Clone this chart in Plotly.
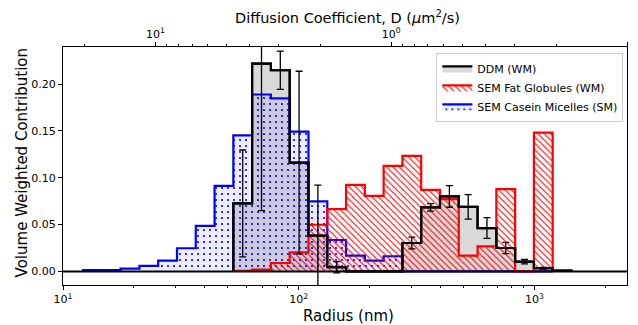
import math
import plotly.graph_objects as go

# ---------------- data ----------------
# shared logarithmic bin edges (radius, nm)
EDGES_NM = [12.16, 14.61, 17.55, 21.09, 25.34, 30.45, 36.58, 43.95, 52.80,
            63.43, 76.21, 91.56, 110.0, 132.2, 158.8, 190.8, 229.2, 275.4,
            330.8, 397.5, 477.5, 573.8, 689.3, 828.2, 995.0, 1195.0, 1436.0]

# SEM Casein Micelles (SM) – bins starting at edge index 0
CASEIN_FIRST_BIN = 0
CASEIN_VALUES = [0.0015, 0.0015, 0.003, 0.006, 0.0115, 0.0247, 0.0487, 0.0913,
                 0.1452, 0.1888, 0.1846, 0.1491, 0.0747, 0.0335, 0.0168, 0.0115,
                 0.0162, 0.0, 0.0, 0.0, 0.0, 0.0, 0.0, 0.0, 0.0]

# SEM Fat Globules (WM) – bins starting at edge index 8
FAT_FIRST_BIN = 8
FAT_VALUES = [0.0005, 0.002, 0.009, 0.0204, 0.0498, 0.0665, 0.0923, 0.0806,
              0.1126, 0.1232, 0.087, 0.0771, 0.0168, 0.0268, 0.0878, 0.0, 0.1481]

# DDM (WM) – bins starting at edge index 8, with error bars
DDM_FIRST_BIN = 8
DDM_VALUES = [0.0726, 0.2218, 0.2147, 0.1162, 0.0381, 0.0045, 0.0, 0.0, 0.0,
              0.0303, 0.0683, 0.080, 0.0689, 0.0463, 0.025, 0.0104, 0.0034, 0.0008]
DDM_ERRORS = [0.057, 0.157, 0.0204, 0.0974, 0.054, 0.006, 0.0, 0.0, 0.0,
              0.0063, 0.004, 0.0115, 0.013, 0.011, 0.006, 0.0023, 0.001, 0.0]

X_RANGE_NM = [10, 2470]
X_TICKS = [10, 100, 1000]
X_TICK_LABELS = ["10<sup>1</sup>", "10<sup>2</sup>", "10<sup>3</sup>"]
Y_RANGE = [-0.0145, 0.2395]
Y_TICKS = [0.0, 0.05, 0.10, 0.15, 0.20]

STOKES_K = 247.0          # D (um^2/s) = STOKES_K / radius (nm)
D_TICKS = [10, 1, 0.1]
D_TICK_LABELS = ["10<sup>1</sup>", "10<sup>0</sup>", "10<sup>\u22121</sup>"]

X_TITLE = "Radius (nm)"
X2_TITLE = "Diffusion Coefficient, D (<i>\u03bc</i>m<sup>2</sup>/s)"
Y_TITLE = "Volume Weighted Contribution"

FONT = "DejaVu Sans"


def step_xy(values, first):
    edges = EDGES_NM[first:first + len(values) + 1]
    x = [edges[0]] + list(edges)
    y = [0.0] + list(values) + [0.0]
    return x, y


def centers(values, first):
    edges = EDGES_NM[first:first + len(values) + 1]
    return [math.sqrt(edges[i] * edges[i + 1]) for i in range(len(values))]


fig = go.Figure()

# DDM fill (bottom layer, appears in legend)
dx, dy = step_xy(DDM_VALUES, DDM_FIRST_BIN)
fig.add_trace(go.Scatter(
    x=dx, y=dy, mode="lines", line=dict(color="black", width=2.2, shape="hv"),
    fill="tozeroy", fillcolor="rgba(128,128,128,0.30)",
    name="DDM (WM)", legendrank=1))

# Casein micelles (blue dotted)
bx, by = step_xy(CASEIN_VALUES, CASEIN_FIRST_BIN)
fig.add_trace(go.Scatter(
    x=bx, y=by, mode="lines", line=dict(color="blue", width=2.2, shape="hv"),
    fill="tozeroy", fillcolor="rgba(0,0,255,0.07)",
    fillpattern=dict(shape=".", fgcolor="blue", bgcolor="rgba(0,0,255,0.07)",
                     size=6, solidity=0.1, fillmode="replace"),
    name="SEM Casein Micelles (SM)", legendrank=3))

# Fat globules (red hatched)
rx, ry = step_xy(FAT_VALUES, FAT_FIRST_BIN)
fig.add_trace(go.Scatter(
    x=rx, y=ry, mode="lines", line=dict(color="red", width=2.2, shape="hv"),
    fill="tozeroy", fillcolor="rgba(0,0,0,0)",
    fillpattern=dict(shape="\\", fgcolor="red", bgcolor="rgba(0,0,0,0)",
                     size=4.5, solidity=0.25, fillmode="replace"),
    name="SEM Fat Globules (WM)", legendrank=2))

# DDM outline on top
fig.add_trace(go.Scatter(
    x=dx, y=dy, mode="lines", line=dict(color="black", width=2.2, shape="hv"),
    showlegend=False, hoverinfo="skip"))

# DDM error bars
fig.add_trace(go.Scatter(
    x=centers(DDM_VALUES, DDM_FIRST_BIN), y=DDM_VALUES, mode="markers",
    marker=dict(size=1, color="rgba(0,0,0,0)"),
    error_y=dict(type="data", array=DDM_ERRORS, visible=True,
                 color="black", thickness=1.3, width=3.5),
    showlegend=False))

# invisible trace to activate the top (diffusion coefficient) axis
fig.add_trace(go.Scatter(
    x=[STOKES_K / X_RANGE_NM[0], STOKES_K / X_RANGE_NM[1]], y=[0, 0],
    xaxis="x2", mode="markers", marker=dict(size=0.1, color="rgba(0,0,0,0)"),
    showlegend=False, hoverinfo="skip"))

# zero line
fig.add_shape(type="line", xref="paper", x0=0, x1=1, yref="y", y0=0, y1=0,
              line=dict(color="black", width=2), layer="above")


def minor_vals(lo, hi):
    vals = []
    for p in range(-3, 5):
        for m in range(2, 10):
            v = m * 10 ** p
            if lo < v < hi:
                vals.append(v)
    return vals


axis_common = dict(showgrid=False, zeroline=False, showline=True,
                   linecolor="black", linewidth=1, ticks="outside",
                   ticklen=4, tickwidth=1, tickcolor="black", automargin=False,
                   tickfont=dict(family=FONT, size=11, color="black"))

title_font = dict(family=FONT, size=15, color="black")
fig.add_annotation(text=X_TITLE, xref="paper", yref="paper", x=0.507, y=-0.130,
                   xanchor="center", yanchor="middle", showarrow=False,
                   font=title_font)
fig.add_annotation(text=X2_TITLE, xref="paper", yref="paper", x=0.505, y=1.126,
                   xanchor="center", yanchor="middle", showarrow=False,
                   font=dict(family=FONT, size=14.5, color="black"))
fig.add_annotation(text=Y_TITLE, xref="paper", yref="paper", x=-0.0727, y=0.515,
                   xanchor="center", yanchor="middle", showarrow=False,
                   textangle=-90, font=title_font)

fig.update_layout(
    width=638, height=325,
    margin=dict(l=63, r=11, t=47, b=40, autoexpand=False),
    paper_bgcolor="white", plot_bgcolor="white",
    font=dict(family=FONT, color="black"),
    showlegend=True,
    legend=dict(x=0.662, y=0.975, xanchor="left", yanchor="top",
                bgcolor="rgba(255,255,255,0.85)", bordercolor="#cccccc",
                borderwidth=1, font=dict(family=FONT, size=11),
                traceorder="normal", tracegroupgap=0, itemwidth=30),
    xaxis=dict(type="log",
               range=[math.log10(X_RANGE_NM[0]), math.log10(X_RANGE_NM[1])],
               tickmode="array", tickvals=X_TICKS, ticktext=X_TICK_LABELS,
               minor=dict(tickvals=minor_vals(*X_RANGE_NM), ticks="outside",
                          ticklen=2, tickcolor="black"),
               **axis_common),
    xaxis2=dict(type="log", overlaying="x", side="top", anchor="y",
                range=[math.log10(STOKES_K / X_RANGE_NM[0]),
                       math.log10(STOKES_K / X_RANGE_NM[1])],
                tickmode="array", tickvals=D_TICKS, ticktext=D_TICK_LABELS,
                minor=dict(tickvals=minor_vals(STOKES_K / X_RANGE_NM[1],
                                               STOKES_K / X_RANGE_NM[0]),
                           ticks="outside", ticklen=2, tickcolor="black"),
                **axis_common),
    yaxis=dict(range=Y_RANGE, tickmode="array", tickvals=Y_TICKS,
               tickformat=".2f", mirror=True,
               **axis_common),
)

fig.write_html("out.html")
